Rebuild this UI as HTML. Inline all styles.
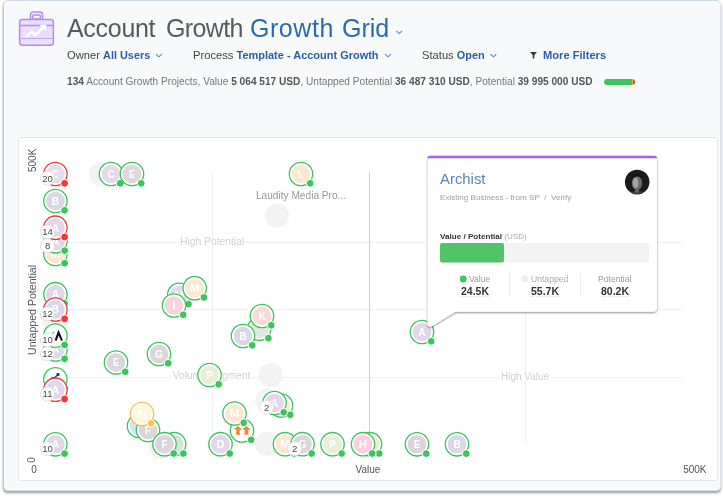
<!DOCTYPE html>
<html><head><meta charset="utf-8"><title>Growth Grid</title>
<style>
*{margin:0;padding:0;box-sizing:border-box}
html,body{width:723px;height:496px;overflow:hidden;background:#fff;font-family:"Liberation Sans",sans-serif}
.card{position:absolute;left:2.5px;top:0;width:718.3px;height:490.5px;background:#f8f9fb;border:1px solid #dde2ea;border-left:1.5px solid #b9cae2;border-top:1.2px solid #d0d9e6;border-radius:5px;box-shadow:0 2.5px 2.5px -0.5px rgba(0,0,0,.38)}
.panel{position:absolute;left:18px;top:137px;width:700px;height:344px;background:#fff;border:1px solid #e3e5e9;border-radius:3px}
.t{position:absolute;white-space:nowrap;line-height:1}
.b{font-weight:bold;color:#2a5ea6;font-size:10.9px}
svg{position:absolute;left:0;top:0;will-change:transform}
.t{will-change:transform}
svg text{font-family:"Liberation Sans",sans-serif}
</style></head><body>
<div class="card"></div>
<div class="panel"></div>

<!-- header -->
<div class="t" id="t1" style="left:67.3px;top:16px;font-size:25px;color:#5a5a5a;letter-spacing:-0.3px">Account</div>
<div class="t" id="t2" style="left:166px;top:16px;font-size:25px;color:#5a5a5a;letter-spacing:-0.65px">Growth</div>
<div class="t" id="t3" style="left:249.7px;top:16px;font-size:25px;color:#2a6ab3;letter-spacing:0.55px">Growth</div>
<div class="t" id="t4" style="left:341.5px;top:16px;font-size:25px;color:#2a6ab3">Grid</div>
<div class="t" id="r2a" style="left:67px;top:50px;font-size:11.2px;color:#444">Owner <span class="b">All Users</span></div>
<div class="t" id="r2b" style="left:193px;top:50px;font-size:11.2px;color:#444">Process <span class="b" style="font-size:10.98px">Template - Account Growth</span></div>
<div class="t" id="r2c" style="left:422px;top:50px;font-size:11.2px;color:#444">Status <span class="b">Open</span></div>
<div class="t" id="r2d" style="left:543px;top:50px;font-size:11.2px;color:#444"><span class="b" style="font-size:11.15px">More Filters</span></div>
<div class="t" id="r3" style="left:67px;top:77.2px;font-size:10.13px;color:#777"><b style="color:#555">134</b> Account Growth Projects, Value <b style="color:#555">5 064 517 USD</b>, Untapped Potential <b style="color:#555">36 487 310 USD</b>, Potential <b style="color:#555">39 995 000 USD</b></div>
<div style="position:absolute;left:604.2px;top:78.6px;width:31px;height:6.3px;border-radius:3.2px;box-shadow:0 0 0 1px #fff;background:linear-gradient(90deg,#3ec35e 0,#3ec35e 28px,#f2c231 28.4px,#ea3a42 29px)"></div>

<svg width="723" height="496" viewBox="0 0 723 496">
<!-- icon -->
<g stroke="#b48de9" stroke-width="1.5" fill="#eadef8" stroke-linejoin="round">
<path d="M30.5 19.5 V14.5 a2.6 2.6 0 0 1 2.6 -2.6 H40 a2.6 2.6 0 0 1 2.6 2.6 V19.5" fill="#f3ebfb"/>
<rect x="32.8" y="15.1" width="7.6" height="4" rx="1.3" fill="#f8f9fb"/>
<rect x="19.6" y="19.6" width="33.8" height="25.6" rx="2.6"/>
<path d="M20 25.4 H53" fill="none"/>
<path d="M20 38.5 H53" fill="none" stroke-width="1.1" stroke="#c3a4ee"/>
</g>
<path d="M26.2 36.9 L31.7 31.6 L35.2 35.1 L43.4 27.4" fill="none" stroke="#fff" stroke-width="2.3"/>
<path d="M39.6 24.9 L46.4 24.4 L45.9 31.2 Z" fill="#fff"/>
<!-- chevrons -->
<g fill="none" stroke="#5488c6" stroke-width="1.1">
<path d="M396.5 30.9 l2.8 2.7 l2.8 -2.7"/>
<path d="M156 54.1 l2.9 2.7 l2.9 -2.7"/>
<path d="M385 54.1 l2.9 2.7 l2.9 -2.7"/>
<path d="M490.5 54.1 l2.9 2.7 l2.9 -2.7"/>
</g>
<path d="M530.1 52 h6.8 l-2.6 2.9 v3.5 h-1.6 v-3.5 Z" fill="#333"/>

<!-- grid -->
<g stroke="#f1f1f1" stroke-width="1" fill="none">
<path d="M67 242.5 H682"/><path d="M67 309.5 H682"/><path d="M67 377.5 H682"/>
<path d="M212.5 172 V443"/><path d="M525.5 172 V443"/>
</g>
<path d="M369.5 172 V443" stroke="#d2d2d2" stroke-width="1.2"/>
<!-- quadrant labels -->
<g font-size="10" fill="#d0d0d0">
<rect x="179.5" y="240" width="65.3" height="5" fill="#fff"/>
<text x="180" y="244.8" font-size="10.3">High Potential</text>
<rect x="172.3" y="375" width="79" height="5" fill="#fff"/>
<text x="172.8" y="379.2" font-size="10.2">Volume Segment</text>
<rect x="500.3" y="375" width="50.5" height="5" fill="#fff"/>
<text x="501" y="379.6">High Value</text>
</g>
<!-- axis labels -->
<g font-size="10" fill="#555">
<text x="31.2" y="472.8">0</text>
<text x="355.5" y="473">Value</text>
<text x="683.2" y="473">500K</text>
<text transform="translate(35.5,172) rotate(-90)">500K</text>
<text transform="translate(35.5,355) rotate(-90)" font-size="10.6">Untapped Potential</text>
<text transform="translate(35.2,462.8) rotate(-90)">0</text>
</g>
<text x="301" y="199" text-anchor="middle" font-size="10.15" fill="#999">Laudity Media Pro...</text>

<circle cx="101" cy="174" r="12" fill="#f3f3f3"/>
<circle cx="277" cy="215.5" r="12" fill="#f3f3f3"/>
<circle cx="270.5" cy="375" r="12" fill="#f3f3f3"/>
<circle cx="267.5" cy="400.3" r="12" fill="#f3f3f3"/>
<circle cx="267" cy="444" r="12" fill="#f3f3f3"/>
<circle cx="55" cy="322" r="12" fill="#f3f3f3"/>
<circle cx="161" cy="447" r="12" fill="#f3f3f3"/>
<circle cx="55.4" cy="444.3" r="11.7" fill="#fff" stroke="#3ec35e" stroke-width="1.3"/><circle cx="55.4" cy="444.3" r="9.3" fill="#e1d7e9"/><text transform="translate(55.4,448.2) scale(0.96,1)" text-anchor="middle" font-size="10.8" font-weight="bold" fill="#fff">A</text><circle cx="64.6" cy="453.6" r="3.9" fill="#3ec35e" stroke="#fff" stroke-width="1"/><circle cx="47.6" cy="448.6" r="7.1" fill="#fff" stroke="#dedede" stroke-width="0.9"/><text x="47.6" y="452.0" text-anchor="middle" font-size="9.6" fill="#4a4a4a">10</text>
<circle cx="55.4" cy="379.3" r="11.7" fill="#fff" stroke="#3ec35e" stroke-width="1.3"/><circle cx="55.4" cy="379.3" r="9.3" fill="#fff"/><g transform="translate(55.4,379.3)"><path d="M-5 -0.4 L-2.6 -2 L-1 -1.5 L2 -4" stroke="#2a3f7a" stroke-width="1.2" fill="none"/><rect x="1.2" y="-6.2" width="2.8" height="2.8" fill="#1c2f6b"/></g><circle cx="64.6" cy="388.6" r="3.9" fill="#3ec35e" stroke="#fff" stroke-width="1"/>
<circle cx="55.4" cy="389.7" r="11.7" fill="#fff" stroke="#ea3a42" stroke-width="1.3"/><circle cx="55.4" cy="389.7" r="9.3" fill="#e1d7e9"/><text transform="translate(55.4,393.59999999999997) scale(0.96,1)" text-anchor="middle" font-size="10.8" font-weight="bold" fill="#fff">A</text><circle cx="64.6" cy="399.0" r="3.9" fill="#ea3a42" stroke="#fff" stroke-width="1"/><circle cx="47.6" cy="394.0" r="7.1" fill="#fff" stroke="#dedede" stroke-width="0.9"/><text x="47.6" y="397.4" text-anchor="middle" font-size="9.6" fill="#4a4a4a">11</text>
<circle cx="55.4" cy="349.5" r="11.7" fill="#fff" stroke="#3ec35e" stroke-width="1.3"/><circle cx="55.4" cy="349.5" r="9.3" fill="#e1d7e9"/><text transform="translate(55.4,353.4) scale(0.96,1)" text-anchor="middle" font-size="10.8" font-weight="bold" fill="#fff">A</text><circle cx="64.6" cy="358.8" r="3.9" fill="#3ec35e" stroke="#fff" stroke-width="1"/><circle cx="47.6" cy="353.8" r="7.1" fill="#fff" stroke="#dedede" stroke-width="0.9"/><text x="47.6" y="357.2" text-anchor="middle" font-size="9.6" fill="#4a4a4a">12</text>
<circle cx="55.4" cy="335.6" r="11.7" fill="#fff" stroke="#3ec35e" stroke-width="1.3"/><circle cx="55.4" cy="335.6" r="9.3" fill="#fff"/><g transform="translate(55.4,335.6)"><path d="M0.2 5 L3.1 -3 L6.6 5" fill="none" stroke="#111" stroke-width="2.1" stroke-linejoin="miter"/><path d="M-2.8 -2 L-1.4 -3.8" stroke="#3ec35e" stroke-width="1.3"/></g><circle cx="64.6" cy="344.90000000000003" r="3.9" fill="#3ec35e" stroke="#fff" stroke-width="1"/><circle cx="47.6" cy="339.90000000000003" r="7.1" fill="#fff" stroke="#dedede" stroke-width="0.9"/><text x="47.6" y="343.3" text-anchor="middle" font-size="9.6" fill="#4a4a4a">10</text>
<circle cx="55.4" cy="294.2" r="11.7" fill="#fff" stroke="#3ec35e" stroke-width="1.3"/><circle cx="55.4" cy="294.2" r="9.3" fill="#e1d7e9"/><text transform="translate(55.4,298.09999999999997) scale(0.96,1)" text-anchor="middle" font-size="10.8" font-weight="bold" fill="#fff">A</text><circle cx="64.6" cy="303.5" r="3.9" fill="#3ec35e" stroke="#fff" stroke-width="1"/>
<circle cx="55.4" cy="309.5" r="11.7" fill="#fff" stroke="#ea3a42" stroke-width="1.3"/><circle cx="55.4" cy="309.5" r="9.3" fill="#dcd6e8"/><text transform="translate(55.4,313.4) scale(0.93,1)" text-anchor="middle" font-size="10.8" font-weight="bold" fill="#fff">B</text><circle cx="64.6" cy="318.8" r="3.9" fill="#ea3a42" stroke="#fff" stroke-width="1"/><circle cx="47.6" cy="313.8" r="7.1" fill="#fff" stroke="#dedede" stroke-width="0.9"/><text x="47.6" y="317.2" text-anchor="middle" font-size="9.6" fill="#4a4a4a">12</text>
<circle cx="55.4" cy="253.9" r="11.7" fill="#fff" stroke="#3ec35e" stroke-width="1.3"/><circle cx="55.4" cy="253.9" r="9.3" fill="#fce8d0"/><text transform="translate(55.4,257.8) scale(1.13,1)" text-anchor="middle" font-size="10.8" font-weight="bold" fill="#fff">M</text><circle cx="64.6" cy="263.2" r="3.9" fill="#3ec35e" stroke="#fff" stroke-width="1"/>
<circle cx="55.4" cy="241.3" r="11.7" fill="#fff" stroke="#3ec35e" stroke-width="1.3"/><circle cx="55.4" cy="241.3" r="9.3" fill="#e1d7e9"/><text transform="translate(55.4,245.20000000000002) scale(0.96,1)" text-anchor="middle" font-size="10.8" font-weight="bold" fill="#fff">A</text><circle cx="64.6" cy="250.60000000000002" r="3.9" fill="#3ec35e" stroke="#fff" stroke-width="1"/><circle cx="47.6" cy="245.60000000000002" r="7.1" fill="#fff" stroke="#dedede" stroke-width="0.9"/><text x="47.6" y="249.00000000000003" text-anchor="middle" font-size="9.6" fill="#4a4a4a">8</text>
<circle cx="55.4" cy="227.7" r="11.7" fill="#fff" stroke="#ea3a42" stroke-width="1.3"/><circle cx="55.4" cy="227.7" r="9.3" fill="#e1d7e9"/><text transform="translate(55.4,231.6) scale(0.96,1)" text-anchor="middle" font-size="10.8" font-weight="bold" fill="#fff">A</text><circle cx="64.6" cy="237.0" r="3.9" fill="#ea3a42" stroke="#fff" stroke-width="1"/><circle cx="47.6" cy="232.0" r="7.1" fill="#fff" stroke="#dedede" stroke-width="0.9"/><text x="47.6" y="235.4" text-anchor="middle" font-size="9.6" fill="#4a4a4a">14</text>
<circle cx="55.4" cy="201" r="11.7" fill="#fff" stroke="#3ec35e" stroke-width="1.3"/><circle cx="55.4" cy="201" r="9.3" fill="#d9d9e5"/><text transform="translate(55.4,204.9) scale(0.93,1)" text-anchor="middle" font-size="10.8" font-weight="bold" fill="#fff">B</text><circle cx="64.6" cy="210.3" r="3.9" fill="#3ec35e" stroke="#fff" stroke-width="1"/>
<circle cx="55.4" cy="174" r="11.7" fill="#fff" stroke="#ea3a42" stroke-width="1.3"/><circle cx="55.4" cy="174" r="9.3" fill="#e6deee"/><text transform="translate(55.4,177.9) scale(0.88,1)" text-anchor="middle" font-size="10.8" font-weight="bold" fill="#fff">C</text><circle cx="64.6" cy="183.3" r="3.9" fill="#ea3a42" stroke="#fff" stroke-width="1"/><circle cx="47.6" cy="178.3" r="7.1" fill="#fff" stroke="#dedede" stroke-width="0.9"/><text x="47.6" y="181.70000000000002" text-anchor="middle" font-size="9.6" fill="#4a4a4a">20</text>
<circle cx="111" cy="174" r="11.7" fill="#fff" stroke="#3ec35e" stroke-width="1.3"/><circle cx="111" cy="174" r="9.3" fill="#e3dbea"/><text transform="translate(111,177.9) scale(0.88,1)" text-anchor="middle" font-size="10.8" font-weight="bold" fill="#fff">C</text><circle cx="120.2" cy="183.3" r="3.9" fill="#3ec35e" stroke="#fff" stroke-width="1"/>
<circle cx="132" cy="174" r="11.7" fill="#fff" stroke="#3ec35e" stroke-width="1.3"/><circle cx="132" cy="174" r="9.3" fill="#e0d7dc"/><text transform="translate(132,177.9) scale(0.84,1)" text-anchor="middle" font-size="10.8" font-weight="bold" fill="#fff">E</text><circle cx="141.2" cy="183.3" r="3.9" fill="#3ec35e" stroke="#fff" stroke-width="1"/>
<circle cx="301" cy="174" r="11.7" fill="#fff" stroke="#3ec35e" stroke-width="1.3"/><circle cx="301" cy="174" r="9.3" fill="#fce8d0"/><text transform="translate(301,177.9) scale(0.92,1)" text-anchor="middle" font-size="10.8" font-weight="bold" fill="#fff">L</text><circle cx="310.2" cy="183.3" r="3.9" fill="#3ec35e" stroke="#fff" stroke-width="1"/>
<circle cx="179.3" cy="294.8" r="11.7" fill="#fff" stroke="#3ec35e" stroke-width="1.3"/><circle cx="179.3" cy="294.8" r="9.3" fill="#dcdcec"/><text transform="translate(179.3,298.7) scale(1.13,1)" text-anchor="middle" font-size="10.8" font-weight="bold" fill="#fff">M</text><circle cx="188.5" cy="304.1" r="3.9" fill="#3ec35e" stroke="#fff" stroke-width="1"/>
<circle cx="194.7" cy="288.2" r="11.7" fill="#fff" stroke="#3ec35e" stroke-width="1.3"/><circle cx="194.7" cy="288.2" r="9.3" fill="#fce8d0"/><text transform="translate(194.7,292.09999999999997) scale(1.13,1)" text-anchor="middle" font-size="10.8" font-weight="bold" fill="#fff">M</text><circle cx="203.89999999999998" cy="297.5" r="3.9" fill="#3ec35e" stroke="#fff" stroke-width="1"/>
<circle cx="174" cy="305.5" r="11.7" fill="#fff" stroke="#3ec35e" stroke-width="1.3"/><circle cx="174" cy="305.5" r="9.3" fill="#f4d5d9"/><text transform="translate(174,309.4) scale(1.15,1)" text-anchor="middle" font-size="10.8" font-weight="bold" fill="#fff">I</text><circle cx="183.2" cy="314.8" r="3.9" fill="#3ec35e" stroke="#fff" stroke-width="1"/>
<circle cx="116" cy="362.5" r="11.7" fill="#fff" stroke="#3ec35e" stroke-width="1.3"/><circle cx="116" cy="362.5" r="9.3" fill="#dbd6dc"/><text transform="translate(116,366.4) scale(0.84,1)" text-anchor="middle" font-size="10.8" font-weight="bold" fill="#fff">E</text><circle cx="125.2" cy="371.8" r="3.9" fill="#3ec35e" stroke="#fff" stroke-width="1"/>
<circle cx="159" cy="354" r="11.7" fill="#fff" stroke="#3ec35e" stroke-width="1.3"/><circle cx="159" cy="354" r="9.3" fill="#dbd6dc"/><text transform="translate(159,357.9) scale(0.955,1)" text-anchor="middle" font-size="10.8" font-weight="bold" fill="#fff">G</text><circle cx="168.2" cy="363.3" r="3.9" fill="#3ec35e" stroke="#fff" stroke-width="1"/>
<circle cx="259.2" cy="328.8" r="11.7" fill="#fff" stroke="#3ec35e" stroke-width="1.3"/><circle cx="259.2" cy="328.8" r="9.3" fill="#dfe9df"/><circle cx="268.4" cy="338.1" r="3.9" fill="#3ec35e" stroke="#fff" stroke-width="1"/>
<circle cx="262" cy="316" r="11.7" fill="#fff" stroke="#3ec35e" stroke-width="1.3"/><circle cx="262" cy="316" r="9.3" fill="#f9dad7"/><text transform="translate(262,319.9) scale(0.92,1)" text-anchor="middle" font-size="10.8" font-weight="bold" fill="#fff">K</text><circle cx="271.2" cy="325.3" r="3.9" fill="#3ec35e" stroke="#fff" stroke-width="1"/>
<circle cx="243" cy="336" r="11.7" fill="#fff" stroke="#3ec35e" stroke-width="1.3"/><circle cx="243" cy="336" r="9.3" fill="#d9d9e5"/><text transform="translate(243,339.9) scale(0.93,1)" text-anchor="middle" font-size="10.8" font-weight="bold" fill="#fff">B</text><circle cx="252.2" cy="345.3" r="3.9" fill="#3ec35e" stroke="#fff" stroke-width="1"/>
<circle cx="422" cy="332" r="11.7" fill="#fff" stroke="#3ec35e" stroke-width="1.3"/><circle cx="422" cy="332" r="9.3" fill="#e1d7e9"/><text transform="translate(422,335.9) scale(0.96,1)" text-anchor="middle" font-size="10.8" font-weight="bold" fill="#fff">A</text><circle cx="431.2" cy="341.3" r="3.9" fill="#3ec35e" stroke="#fff" stroke-width="1"/>
<circle cx="209.5" cy="375" r="11.7" fill="#fff" stroke="#3ec35e" stroke-width="1.3"/><circle cx="209.5" cy="375" r="9.3" fill="#e7f0d6"/><text transform="translate(209.5,378.9) scale(0.94,1)" text-anchor="middle" font-size="10.8" font-weight="bold" fill="#fff">P</text><circle cx="218.7" cy="384.3" r="3.9" fill="#3ec35e" stroke="#fff" stroke-width="1"/>
<circle cx="139" cy="426" r="11.7" fill="#fff" stroke="#3ec35e" stroke-width="1.3"/><circle cx="139" cy="426" r="9.3" fill="#d5e3f1"/><circle cx="148.2" cy="435.3" r="3.9" fill="#3ec35e" stroke="#fff" stroke-width="1"/>
<circle cx="148" cy="430" r="11.7" fill="#fff" stroke="#3ec35e" stroke-width="1.3"/><circle cx="148" cy="430" r="9.3" fill="#dbd6dc"/><text transform="translate(148,433.9) scale(0.9,1)" text-anchor="middle" font-size="10.8" font-weight="bold" fill="#fff">F</text><circle cx="157.2" cy="439.3" r="3.9" fill="#3ec35e" stroke="#fff" stroke-width="1"/>
<circle cx="142" cy="414" r="11.7" fill="#fff" stroke="#fbc253" stroke-width="1.3"/><circle cx="142" cy="414" r="9.3" fill="#fff7d9"/><text transform="translate(142,417.9) scale(1.12,1)" text-anchor="middle" font-size="10.8" font-weight="bold" fill="#fff">N</text><circle cx="151.2" cy="423.3" r="3.9" fill="#fbc253" stroke="#fff" stroke-width="1"/>
<circle cx="174.2" cy="444.2" r="11.7" fill="#fff" stroke="#3ec35e" stroke-width="1.3"/><circle cx="174.2" cy="444.2" r="9.3" fill="#d5e2d6"/><circle cx="183.39999999999998" cy="453.5" r="3.9" fill="#3ec35e" stroke="#fff" stroke-width="1"/>
<circle cx="164.5" cy="444.2" r="11.7" fill="#fff" stroke="#3ec35e" stroke-width="1.3"/><circle cx="164.5" cy="444.2" r="9.3" fill="#dbd6dc"/><text transform="translate(164.5,448.09999999999997) scale(0.9,1)" text-anchor="middle" font-size="10.8" font-weight="bold" fill="#fff">F</text><circle cx="173.7" cy="453.5" r="3.9" fill="#3ec35e" stroke="#fff" stroke-width="1"/>
<circle cx="220.5" cy="444.2" r="11.7" fill="#fff" stroke="#3ec35e" stroke-width="1.3"/><circle cx="220.5" cy="444.2" r="9.3" fill="#e1d9ea"/><text transform="translate(220.5,448.09999999999997) scale(1.02,1)" text-anchor="middle" font-size="10.8" font-weight="bold" fill="#fff">D</text><circle cx="229.7" cy="453.5" r="3.9" fill="#3ec35e" stroke="#fff" stroke-width="1"/>
<circle cx="242" cy="430.5" r="11.7" fill="#fff" stroke="#3ec35e" stroke-width="1.3"/><circle cx="242" cy="430.5" r="9.3" fill="#fff"/><g transform="translate(242,430.5)" fill="#f5852a"><path d="M-7.6 -1.6 L-4 -4.4 L-0.4 -1.6 L-0.8 -0.6 L-2.4 -1 L-2 4.3 L-6 4.3 L-5.6 -1 L-7.2 -0.6 Z"/><path d="M0.8 -1.6 L4.4 -4.4 L8 -1.6 L7.6 -0.6 L6 -1 L6.4 4.3 L2.4 4.3 L2.8 -1 L1.2 -0.6 Z"/></g><circle cx="251.2" cy="439.8" r="3.9" fill="#3ec35e" stroke="#fff" stroke-width="1"/>
<circle cx="234.5" cy="413.5" r="11.7" fill="#fff" stroke="#3ec35e" stroke-width="1.3"/><circle cx="234.5" cy="413.5" r="9.3" fill="#fce8d0"/><text transform="translate(234.5,417.4) scale(1.13,1)" text-anchor="middle" font-size="10.8" font-weight="bold" fill="#fff">M</text><circle cx="243.7" cy="422.8" r="3.9" fill="#3ec35e" stroke="#fff" stroke-width="1"/>
<circle cx="281" cy="405.5" r="11.7" fill="#fff" stroke="#3ec35e" stroke-width="1.3"/><circle cx="281" cy="405.5" r="9.3" fill="#eef3d0"/><circle cx="290.2" cy="414.8" r="3.9" fill="#3ec35e" stroke="#fff" stroke-width="1"/>
<circle cx="274.5" cy="403" r="11.7" fill="#fff" stroke="#3ec35e" stroke-width="1.3"/><circle cx="274.5" cy="403" r="9.3" fill="#e1d7e9"/><text transform="translate(274.5,406.9) scale(0.96,1)" text-anchor="middle" font-size="10.8" font-weight="bold" fill="#fff">A</text><circle cx="283.7" cy="412.3" r="3.9" fill="#3ec35e" stroke="#fff" stroke-width="1"/><circle cx="266.7" cy="407.3" r="7.1" fill="#fff" stroke="#dedede" stroke-width="0.9"/><text x="266.7" y="410.7" text-anchor="middle" font-size="9.6" fill="#4a4a4a">2</text>
<circle cx="285" cy="444.2" r="11.7" fill="#fff" stroke="#3ec35e" stroke-width="1.3"/><circle cx="285" cy="444.2" r="9.3" fill="#fce8d0"/><text transform="translate(285,448.09999999999997) scale(1.13,1)" text-anchor="middle" font-size="10.8" font-weight="bold" fill="#fff">M</text><circle cx="294.2" cy="453.5" r="3.9" fill="#3ec35e" stroke="#fff" stroke-width="1"/>
<circle cx="302.5" cy="444.2" r="11.7" fill="#fff" stroke="#3ec35e" stroke-width="1.3"/><circle cx="302.5" cy="444.2" r="9.3" fill="#dbd6dc"/><text transform="translate(302.5,448.09999999999997) scale(0.955,1)" text-anchor="middle" font-size="10.8" font-weight="bold" fill="#fff">G</text><circle cx="311.7" cy="453.5" r="3.9" fill="#3ec35e" stroke="#fff" stroke-width="1"/><circle cx="294.7" cy="448.5" r="7.1" fill="#fff" stroke="#dedede" stroke-width="0.9"/><text x="294.7" y="451.9" text-anchor="middle" font-size="9.6" fill="#4a4a4a">2</text>
<circle cx="332.5" cy="444.2" r="11.7" fill="#fff" stroke="#3ec35e" stroke-width="1.3"/><circle cx="332.5" cy="444.2" r="9.3" fill="#e7f0d6"/><text transform="translate(332.5,448.09999999999997) scale(0.94,1)" text-anchor="middle" font-size="10.8" font-weight="bold" fill="#fff">P</text><circle cx="341.7" cy="453.5" r="3.9" fill="#3ec35e" stroke="#fff" stroke-width="1"/>
<circle cx="370" cy="444.2" r="11.7" fill="#fff" stroke="#3ec35e" stroke-width="1.3"/><circle cx="370" cy="444.2" r="9.3" fill="#eaf0d4"/><circle cx="379.2" cy="453.5" r="3.9" fill="#3ec35e" stroke="#fff" stroke-width="1"/>
<circle cx="363" cy="444.2" r="11.7" fill="#fff" stroke="#3ec35e" stroke-width="1.3"/><circle cx="363" cy="444.2" r="9.3" fill="#facfe1"/><text transform="translate(363,448.09999999999997) scale(1.06,1)" text-anchor="middle" font-size="10.8" font-weight="bold" fill="#fff">H</text><circle cx="372.2" cy="453.5" r="3.9" fill="#3ec35e" stroke="#fff" stroke-width="1"/>
<circle cx="417" cy="444.3" r="11.7" fill="#fff" stroke="#3ec35e" stroke-width="1.3"/><circle cx="417" cy="444.3" r="9.3" fill="#dbd6dc"/><text transform="translate(417,448.2) scale(0.84,1)" text-anchor="middle" font-size="10.8" font-weight="bold" fill="#fff">E</text><circle cx="426.2" cy="453.6" r="3.9" fill="#3ec35e" stroke="#fff" stroke-width="1"/>
<circle cx="457" cy="444.3" r="11.7" fill="#fff" stroke="#3ec35e" stroke-width="1.3"/><circle cx="457" cy="444.3" r="9.3" fill="#d9d9e5"/><text transform="translate(457,448.2) scale(0.93,1)" text-anchor="middle" font-size="10.8" font-weight="bold" fill="#fff">B</text><circle cx="466.2" cy="453.6" r="3.9" fill="#3ec35e" stroke="#fff" stroke-width="1"/>
</svg>

<!-- tooltip -->
<svg width="723" height="496" viewBox="0 0 723 496" style="pointer-events:none">
<defs><filter id="sh" x="-10%" y="-10%" width="120%" height="125%"><feGaussianBlur in="SourceAlpha" stdDeviation="1.25"/><feOffset dy="1.3"/><feComponentTransfer><feFuncA type="linear" slope="0.5"/></feComponentTransfer><feMerge><feMergeNode/><feMergeNode in="SourceGraphic"/></feMerge></filter>
<radialGradient id="face" cx="0.5" cy="0.45" r="0.5"><stop offset="0" stop-color="#b5b5b5"/><stop offset="0.45" stop-color="#777"/><stop offset="0.8" stop-color="#2a2a2a"/><stop offset="1" stop-color="#1c1c1c"/></radialGradient>
</defs>
<path filter="url(#sh)" d="M430.5 156 H654 a3 3 0 0 1 3 3 V307.8 a4 4 0 0 1 -4 4 H455.5 L430.5 327 L427.7 325.6 V159 a3 3 0 0 1 3 -3 Z" fill="#fff"/>
<path d="M430.5 156 H654 a3 3 0 0 1 3 3 H427.5 a3 3 0 0 1 3 -3 Z" fill="#a55fe8"/>
<rect x="427.5" y="157.6" width="229.5" height="1.6" fill="#fff"/>
<path d="M427.5 158.2 v-0.2 a2.5 2.5 0 0 1 2.5 -2.3 H654.5 a2.5 2.5 0 0 1 2.5 2.3 v0.2 Z" fill="#a55fe8"/>
<circle cx="637.2" cy="182" r="12.3" fill="#1b1b1b"/>
<clipPath id="av"><circle cx="637.2" cy="182" r="12.3"/></clipPath>
<g clip-path="url(#av)"><ellipse cx="637.2" cy="196" rx="9" ry="5" fill="#3a3a3a"/><ellipse cx="637" cy="182.8" rx="5.2" ry="7.2" fill="#6a6a6a"/><ellipse cx="635.6" cy="182.8" rx="2.9" ry="5.4" fill="#a2a2a2"/><path d="M631.8 181 q1 -7.5 5.4 -7.5 q4.8 0 5.6 7.5 q-1.6 -4.4 -5.4 -4.4 q-3.8 0 -5.6 4.4Z" fill="#111"/><rect x="635.2" y="188.5" width="3.6" height="4" fill="#666"/></g>
<rect x="440" y="243" width="209" height="19.5" rx="2" fill="#f3f3f3"/>
<rect x="440" y="243" width="64" height="19.5" rx="2" fill="#52c468"/>
<path d="M509.7 272.5 V296 M580.5 272.5 V296" stroke="#eee" stroke-width="1"/>
<circle cx="463.2" cy="279" r="3.4" fill="#3ec35e"/>
<circle cx="524.7" cy="279" r="3.4" fill="#eee"/>
</svg>
<div class="t" style="left:440px;top:172.2px;font-size:14.9px;color:#5586c2">Archist</div>
<div class="t" style="left:440px;top:193.8px;font-size:8.1px;color:#a0a0a0">Existing Business - from SP &nbsp;/&nbsp; Verify</div>
<div class="t" style="left:440px;top:232.5px;font-size:8.1px;color:#333;font-weight:bold">Value / Potential <span style="font-weight:normal;color:#aaa">(USD)</span></div>
<div class="t" id="s1l" style="left:469px;top:275px;font-size:8.6px;color:#999">Value</div>
<div class="t" id="s1v" style="left:460.5px;top:285.5px;font-size:10.5px;color:#333;font-weight:bold;border-bottom:1px dotted #e2e2e2;height:10.8px">24.5K</div>
<div class="t" id="s2l" style="left:531px;top:275px;font-size:8.6px;color:#aaa">Untapped</div>
<div class="t" id="s2v" style="left:531px;top:285.5px;font-size:10.5px;color:#333;font-weight:bold;border-bottom:1px dotted #e2e2e2;height:10.8px">55.7K</div>
<div class="t" id="s3l" style="left:598px;top:275px;font-size:8.6px;color:#999">Potential</div>
<div class="t" id="s3v" style="left:601px;top:285.5px;font-size:10.5px;color:#333;font-weight:bold;border-bottom:1px dotted #e2e2e2;height:10.8px">80.2K</div>
</body></html>
